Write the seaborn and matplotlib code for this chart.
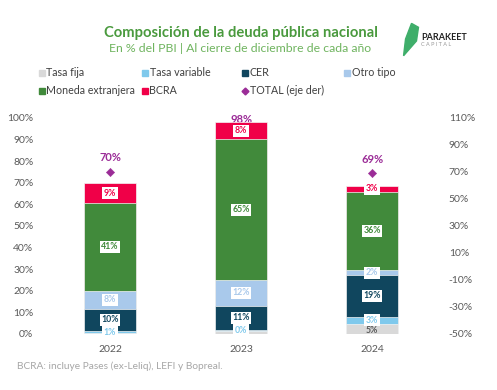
import numpy as np
import pandas as pd
import seaborn as sns
import matplotlib.pyplot as plt
from matplotlib.lines import Line2D
from matplotlib.patches import Polygon

# Data (% del PBI)
years = ['2022', '2023', '2024']
tasa_fija = [0.3, 1.5, 4.8]
tasa_variable = [1.2, 0.3, 3.2]
cer = [10.2, 11.3, 19.2]
otro_tipo = [8.2, 11.9, 2.3]
moneda_ext = [40.8, 65.1, 36.4]
bcra = [9.1, 7.8, 2.8]
total = [70, 98, 69]

series = ['Tasa fija', 'Tasa variable', 'CER', 'Otro tipo', 'Moneda extranjera', 'BCRA']
colors = ['#d9d9d9', '#7fc9ec', '#10465e', '#a9c9eb', '#418a3b', '#f00048']
label_colors = ['#595959', '#7fc9ec', '#10465e', '#a9c9eb', '#418a3b', '#f00048']
purple = '#9b2c97'

df = pd.DataFrame({'year': years, 'Tasa fija': tasa_fija, 'Tasa variable': tasa_variable,
                   'CER': cer, 'Otro tipo': otro_tipo, 'Moneda extranjera': moneda_ext,
                   'BCRA': bcra})
cum = df[series].cumsum(axis=1)

sns.set_style('white')
plt.rcParams['font.family'] = ['Lato', 'DejaVu Sans']

fig = plt.figure(figsize=(4.97, 3.90), dpi=100)
ax = fig.add_axes([0.0895, 0.1436, 0.791, 0.554])

# stacked bars: draw cumulative totals from the top down
for s, c in reversed(list(zip(series, colors))):
    sns.barplot(x=df['year'], y=cum[s], color=c, width=0.4, ax=ax, saturation=1,
                edgecolor='#f4f4f4', linewidth=0.5, zorder=2)

# data labels
for i in range(len(years)):
    for j, s in enumerate(series):
        v = df.loc[i, s]
        if s == 'Tasa fija' and v < 2:
            continue
        mid = cum.loc[i, s] - v / 2
        box = dict(boxstyle='square,pad=0.18', fc='white', ec='none')
        z = 6
        if s == 'Tasa fija':
            box = None
            mid -= 0.6
            z = 8
        ax.text(i, mid, f'{v:.0f}%', ha='center', va='center', fontsize=6.3,
                fontweight='bold', color=label_colors[j], zorder=z, bbox=box)

ax.set_ylim(0, 100)
ax.set_xlim(-0.5, 2.5)
ax.set_yticks(np.arange(0, 101, 10))
ax.set_yticklabels([f'{t}%' for t in range(0, 101, 10)])
ax.set_xlabel('')
ax.set_ylabel('')
ax.tick_params(axis='both', length=0, labelsize=7.5, colors='#595959', pad=8)
for sp in ax.spines.values():
    sp.set_visible(False)

# total on the right axis
ax2 = ax.twinx()
sns.scatterplot(x=[0, 1, 2], y=total, marker='D', color=purple, s=18,
                edgecolor=purple, ax=ax2, zorder=3)
for i, t in enumerate(total):
    ax2.text(i, t + 6.5, f'{t}%', ha='center', va='bottom', fontsize=8,
             fontweight='bold', color=purple, zorder=7)
ax2.set_ylim(-50, 110)
ax2.set_yticks(np.arange(-50, 111, 20))
ax2.set_yticklabels([f'{t}%' for t in range(-50, 111, 20)])
ax2.tick_params(axis='y', length=0, labelsize=7.5, colors='#595959', pad=8)
for sp in ax2.spines.values():
    sp.set_visible(False)
ax.set_zorder(ax2.get_zorder() + 1)
ax.patch.set_visible(False)
ax2.set_xlim(-0.5, 2.5)

# titles
fig.text(0.485, 0.915, 'Composición de la deuda pública nacional', ha='center',
         va='center', fontsize=10.6, fontweight='bold', color='#4a9a3e')
fig.text(0.483, 0.876, 'En % del PBI | Al cierre de diciembre de cada año', ha='center',
         va='center', fontsize=8.8, color='#6fb45f')

# logo
fig.add_artist(Polygon([[0.828, 0.94], [0.842, 0.93], [0.838, 0.895], [0.812, 0.857],
                        [0.816, 0.90]], closed=True, transform=fig.transFigure,
                       color='#3fae6a'))
fig.text(0.847, 0.905, 'PARAKEET', fontsize=6.5, fontweight='bold', color='#222222',
         va='center')
fig.text(0.848, 0.886, 'C A P I T A L', fontsize=4, color='#999999', va='center')

# legend, placed entry by entry
leg_x = [40, 143, 243, 345]
leg_y = [72.5, 90.5]
entries = [('Tasa fija', colors[0], 's'), ('Tasa variable', colors[1], 's'),
           ('CER', colors[2], 's'), ('Otro tipo', colors[3], 's'),
           ('Moneda extranjera', colors[4], 's'), ('BCRA', colors[5], 's'),
           ('TOTAL (eje der)', purple, 'D')]
W, H = 497, 390
for k, (lab, c, m) in enumerate(entries):
    x = leg_x[k % 4]
    y = leg_y[k // 4]
    fig.add_artist(Line2D([(x + 2) / W], [1 - y / H], marker=m, ls='', color=c,
                          markersize=4.5 if m == 's' else 3.5,
                          transform=fig.transFigure))
    fig.text((x + 6.5) / W, 1 - y / H, lab, fontsize=7.7, color='#404040', va='center')

fig.text(0.034, 0.06, 'BCRA: incluye Pases (ex-Leliq), LEFI y Bopreal.', fontsize=7.3,
         color='#a6a6a6', va='center')

fig.savefig('out.png', dpi=100)
